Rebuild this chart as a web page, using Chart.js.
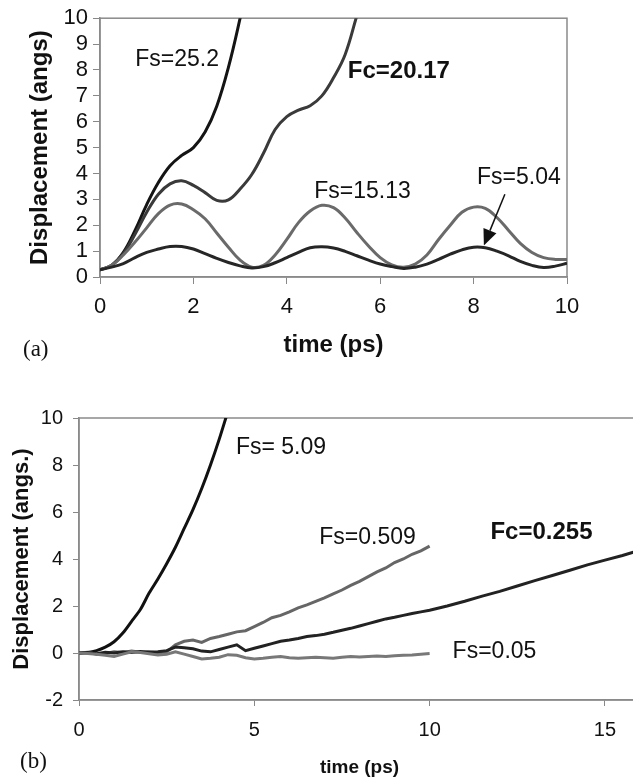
<!DOCTYPE html>
<html>
<head>
<meta charset="utf-8">
<script src="https://cdn.jsdelivr.net/npm/chart.js@4.4.1/dist/chart.umd.min.js"></script>
<style>
  html, body { margin:0; padding:0; background:#fff; width:633px; height:779px; overflow:hidden; position:relative; }
  canvas { position:absolute; left:0; }
  .tag { position:absolute; font-family:"Liberation Serif","Times New Roman",serif; font-size:23px; color:#111; line-height:1; }
</style>
</head>
<body>
<canvas id="chartA" width="633" height="375" style="top:0;width:633px;height:375px"></canvas>
<canvas id="chartB" width="660" height="389" style="top:390px;width:660px;height:389px"></canvas>
<div class="tag" style="left:23px;top:337px">(a)</div>
<div class="tag" style="left:20px;top:749px">(b)</div>
<script>
// ---------- Panel (a) data ----------
const timeA = [0,0.25,0.5,0.75,1.0,1.25,1.5,1.75,2.0,2.25,2.5,2.75,3.0,3.25,3.5,3.75,4.0,4.25,4.5,4.75,5.0,5.25,5.5,5.75,6.0,6.25,6.5,6.75,7.0,7.25,7.5,7.75,8.0,8.25,8.5,8.75,9.0,9.25,9.5,9.75,10.0];
const timeA25 = [0,0.25,0.5,0.75,1.0,1.25,1.5,1.75,2.0,2.25,2.5,2.75,3.0,3.15];
const fs252 = [0.28,0.45,0.95,1.8,2.8,3.65,4.3,4.7,5.0,5.6,6.6,8.1,10.0,11.3];
const timeA20 = [0,0.25,0.5,0.75,1.0,1.25,1.5,1.75,2.0,2.25,2.5,2.75,3.0,3.25,3.5,3.75,4.0,4.25,4.5,4.75,5.0,5.25,5.5,5.7];
const fc2017 = [0.28,0.45,0.9,1.65,2.5,3.2,3.6,3.72,3.54,3.26,2.96,2.98,3.4,3.96,4.78,5.7,6.2,6.45,6.62,7.0,7.7,8.6,10.1,11.3];
const fs1513 = [0.28,0.45,0.85,1.35,1.9,2.45,2.78,2.82,2.6,2.25,1.7,1.15,0.65,0.38,0.45,0.85,1.45,2.1,2.55,2.77,2.68,2.28,1.72,1.2,0.75,0.47,0.38,0.5,0.85,1.45,2.0,2.5,2.7,2.65,2.3,1.8,1.3,0.95,0.75,0.68,0.68];
const fs504 = [0.28,0.38,0.52,0.75,0.95,1.08,1.18,1.18,1.08,0.9,0.72,0.56,0.43,0.35,0.4,0.55,0.75,0.95,1.13,1.17,1.12,0.99,0.82,0.65,0.5,0.4,0.33,0.38,0.5,0.68,0.88,1.05,1.15,1.13,1.0,0.82,0.6,0.45,0.37,0.42,0.53];
const ticksA_x = [0,2,4,6,8,10];
const labelsA = [
  {x:1.65, y:8.38, text:'Fs=25.2', bold:false},
  {x:6.4,  y:7.94, text:'Fc=20.17', bold:true},
  {x:5.62, y:3.28, text:'Fs=15.13', bold:false},
  {x:8.97, y:3.82, text:'Fs=5.04', bold:false}
];
const arrowA = {fromX:8.67, fromY:3.2, toX:8.22, toY:1.22};

// ---------- Panel (b) data ----------
const timeB509 = [0,0.25,0.5,0.75,1.0,1.25,1.5,1.75,2.0,2.25,2.5,2.75,3.0,3.25,3.5,3.75,4.0,4.25,4.4];
const fs509 = [0,0.02,0.1,0.25,0.48,0.85,1.35,1.85,2.55,3.15,3.8,4.5,5.3,6.1,7.0,8.0,9.1,10.3,11.0];
const timeB10 = [0,0.25,0.5,0.75,1.0,1.25,1.5,1.75,2.0,2.25,2.5,2.75,3.0,3.25,3.5,3.75,4.0,4.25,4.5,4.75,5.0,5.25,5.5,5.75,6.0,6.25,6.5,6.75,7.0,7.25,7.5,7.75,8.0,8.25,8.5,8.75,9.0,9.25,9.5,9.75,10.0];
const fs0509 = [0,0.03,-0.05,-0.02,0.05,0.02,0.08,0.03,0.05,0.0,0.05,0.35,0.5,0.55,0.45,0.62,0.7,0.8,0.9,0.95,1.12,1.3,1.5,1.6,1.75,1.92,2.05,2.2,2.35,2.52,2.68,2.88,3.05,3.25,3.45,3.62,3.85,4.0,4.2,4.35,4.55];
const fs005 = [0,-0.02,-0.05,-0.1,-0.15,-0.05,0.05,0.02,-0.03,-0.08,-0.05,0.05,-0.05,-0.15,-0.25,-0.22,-0.18,-0.07,-0.1,-0.2,-0.25,-0.22,-0.18,-0.15,-0.2,-0.22,-0.2,-0.18,-0.2,-0.22,-0.18,-0.15,-0.17,-0.15,-0.13,-0.15,-0.12,-0.1,-0.08,-0.05,-0.02];
const timeB16 = [0,0.25,0.5,0.75,1.0,1.25,1.5,1.75,2.0,2.25,2.5,2.75,3.0,3.25,3.5,3.75,4.0,4.25,4.5,4.75,5.0,5.25,5.5,5.75,6.0,6.25,6.5,6.75,7.0,7.25,7.5,7.75,8.0,8.25,8.5,8.75,9.0,9.25,9.5,9.75,10.0,10.5,11.0,11.5,12.0,12.5,13.0,13.5,14.0,14.5,15.0,15.5,16.0];
const fc0255 = [0,0.02,-0.03,0.03,0,0.05,0.02,0.06,0.03,0.05,0.1,0.25,0.22,0.18,0.08,0.05,0.15,0.25,0.35,0.1,0.2,0.3,0.4,0.5,0.55,0.62,0.7,0.74,0.8,0.88,0.97,1.05,1.15,1.25,1.35,1.45,1.52,1.6,1.68,1.75,1.82,2.0,2.2,2.42,2.62,2.85,3.08,3.3,3.52,3.75,3.95,4.15,4.38];
const labelsB = [
  {x:5.76,  y:8.72, text:'Fs= 5.09', bold:false},
  {x:8.23,  y:4.89, text:'Fs=0.509', bold:false},
  {x:13.19, y:5.15, text:'Fc=0.255', bold:true},
  {x:11.85, y:0.04, text:'Fs=0.05', bold:false}
];

const FONT = '"Liberation Sans", Arial, Helvetica, sans-serif';
const pts = (xs, ys) => xs.map((x, i) => ({x: x, y: ys[i]}));

const framePlugin = {
  id: 'frame',
  beforeDatasetsDraw(chart) {
    const {ctx, chartArea: a} = chart;
    ctx.save();
    ctx.strokeStyle = '#8a8a8a';
    ctx.lineWidth = 1.5;
    ctx.strokeRect(a.left, a.top, a.right - a.left, a.bottom - a.top);
    ctx.restore();
  }
};

const annotPlugin = {
  id: 'annot',
  afterDatasetsDraw(chart, args, opts) {
    const {ctx, scales: {x, y}} = chart;
    ctx.save();
    ctx.fillStyle = '#111';
    ctx.textAlign = 'center';
    ctx.textBaseline = 'middle';
    (opts.labels || []).forEach(l => {
      ctx.font = (l.bold ? 'bold ' : '') + (l.bold ? opts.boldSize : opts.size) + 'px ' + FONT;
      ctx.fillText(l.text, x.getPixelForValue(l.x), y.getPixelForValue(l.y));
    });
    if (opts.arrow) {
      const ar = opts.arrow;
      const x1 = x.getPixelForValue(ar.fromX), y1 = y.getPixelForValue(ar.fromY);
      const x2 = x.getPixelForValue(ar.toX), y2 = y.getPixelForValue(ar.toY);
      const ang = Math.atan2(y2 - y1, x2 - x1);
      const hl = 16, hw = 7;
      const bx = x2 - hl * Math.cos(ang), by = y2 - hl * Math.sin(ang);
      ctx.strokeStyle = '#111';
      ctx.lineWidth = 1.5;
      ctx.beginPath(); ctx.moveTo(x1, y1); ctx.lineTo(bx, by); ctx.stroke();
      ctx.beginPath();
      ctx.moveTo(x2, y2);
      ctx.lineTo(bx + hw * Math.sin(ang), by - hw * Math.cos(ang));
      ctx.lineTo(bx - hw * Math.sin(ang), by + hw * Math.cos(ang));
      ctx.closePath(); ctx.fill();
    }
    ctx.restore();
  }
};

function line(data, color, tension) {
  return {data: data, borderColor: color, borderWidth: 3, pointRadius: 0, tension: tension, fill: false};
}

new Chart(document.getElementById('chartA'), {
  type: 'line',
  data: {datasets: [
    line(pts(timeA, fs504), '#262626', 0.4),
    line(pts(timeA, fs1513), '#6a6a6a', 0.4),
    line(pts(timeA20, fc2017), '#3a3a3a', 0.4),
    line(pts(timeA25, fs252), '#141414', 0.4)
  ]},
  options: {
    responsive: false, devicePixelRatio: 1, animation: false,
    layout: {padding: {top: 15, right: 66, left: 0, bottom: 0}},
    plugins: {legend: {display: false}, tooltip: {enabled: false},
      annot: {labels: labelsA, arrow: arrowA, size: 23, boldSize: 24}},
    scales: {
      x: {type: 'linear', min: 0, max: 10,
        afterBuildTicks: s => { s.ticks = ticksA_x.map(v => ({value: v})); },
        afterFit: s => { s.height = 98; },
        grid: {display: true, drawOnChartArea: false, drawTicks: true, tickLength: 7, color: '#888'},
        border: {display: true, color: '#8a8a8a', width: 1.5},
        ticks: {color: '#111', font: {family: FONT, size: 22}, padding: 10, maxRotation: 0, autoSkip: false},
        title: {display: true, text: 'time (ps)', color: '#111', font: {family: FONT, size: 24, weight: 'bold'}, padding: {top: 0, bottom: 15.6}}
      },
      y: {type: 'linear', min: 0, max: 10,
        ticks: {stepSize: 1, autoSkip: false, color: '#111', font: {family: FONT, size: 22}, padding: 5},
        afterFit: s => { s.width = 100; },
        grid: {display: true, drawOnChartArea: false, drawTicks: true, tickLength: 7, color: '#888'},
        border: {display: true, color: '#8a8a8a', width: 1.5},
        title: {display: true, text: 'Displacement (angs)', color: '#111', font: {family: FONT, size: 24, weight: 'bold'}, padding: {top: 25.6, bottom: 0}}
      }
    }
  },
  plugins: [framePlugin, annotPlugin]
});

new Chart(document.getElementById('chartB'), {
  type: 'line',
  data: {datasets: [
    line(pts(timeB10, fs005), '#787878', 0),
    line(pts(timeB16, fc0255), '#222222', 0),
    line(pts(timeB10, fs0509), '#666666', 0),
    line(pts(timeB509, fs509), '#111111', 0.3)
  ]},
  options: {
    responsive: false, devicePixelRatio: 1, animation: false,
    layout: {padding: {top: 28, right: 20, left: 0, bottom: 0}},
    plugins: {legend: {display: false}, tooltip: {enabled: false},
      annot: {labels: labelsB, size: 23, boldSize: 24}},
    scales: {
      x: {type: 'linear', min: 0, max: 16,
        afterFit: s => { s.height = 79; },
        grid: {display: true, drawOnChartArea: false, drawTicks: true, tickLength: 6, color: '#888'},
        border: {display: true, color: '#8a8a8a', width: 1.5},
        ticks: {stepSize: 5, includeBounds: false, autoSkip: false, color: '#111', font: {family: FONT, size: 20}, padding: 12, maxRotation: 0},
        title: {display: true, text: 'time (ps)', color: '#111', font: {family: FONT, size: 19, weight: 'bold'}, padding: {top: 0, bottom: 0}}
      },
      y: {type: 'linear', min: -2, max: 10,
        ticks: {stepSize: 2, autoSkip: false, color: '#111', font: {family: FONT, size: 20}, padding: 10},
        afterFit: s => { s.width = 79; },
        grid: {display: true, drawOnChartArea: false, drawTicks: true, tickLength: 6, color: '#888'},
        border: {display: true, color: '#8a8a8a', width: 1.5},
        title: {display: true, text: 'Displacement (angs.)', color: '#111', font: {family: FONT, size: 22, weight: 'bold'}, padding: {top: 8.8, bottom: 0}}
      }
    }
  },
  plugins: [framePlugin, annotPlugin]
});
</script>
</body>
</html>
